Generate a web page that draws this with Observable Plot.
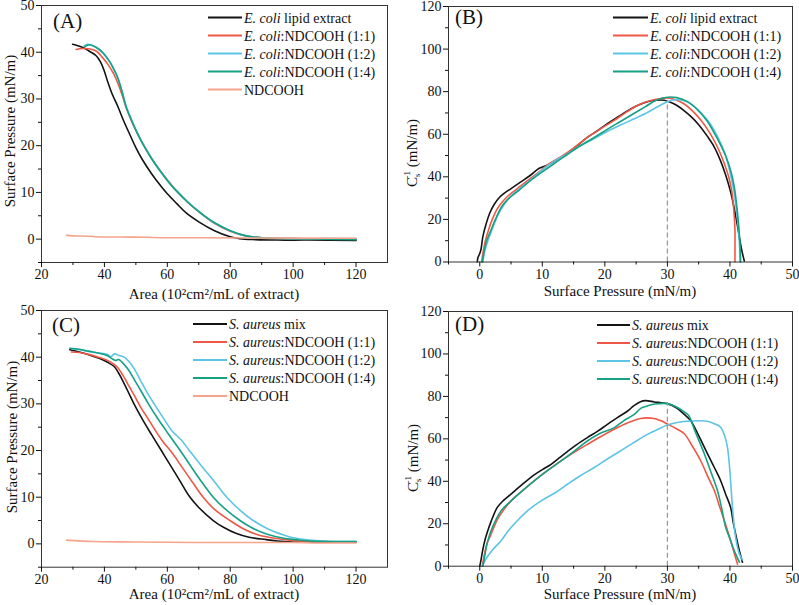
<!DOCTYPE html>
<html>
<head>
<meta charset="utf-8">
<script src="https://cdn.jsdelivr.net/npm/d3@7"></script>
<script src="https://cdn.jsdelivr.net/npm/@observablehq/plot@0.6"></script>
<style>
  body { margin: 0; background: #fff; }
  #fig { position: relative; width: 799px; height: 605px; font-family: 'Liberation Serif', serif; }
  #fig svg { position: absolute; overflow: visible; }
</style>
</head>
<body>
<div id="fig"></div>
<script>
// ---- (A) E. coli isotherms: [area, surface pressure]
const aLipid = [[29.9,41.7],[31.5,41.4],[33.5,40.9],[35.5,40.1],[37.3,39.3],[38.7,38],[39.9,36.1],[41,33.8],[42.5,31],[44.2,28.5],[46,25.5],[48,22.5],[50,19.6],[52,17.1],[55,14],[58,11.3],[60,9.7],[63,7.6],[66,5.6],[70,3.7],[75,1.8],[80,0.5],[83,0.1],[88,-0.1],[95,-0.2],[105,-0.2],[120,-0.3]];
const aMix11 = [[31,40.6],[33,40.8],[35.5,40.7],[37.5,40.2],[39.2,39],[41,37.5],[43,35.3],[44.5,33],[45.8,30.5],[47,28],[48.8,25],[50.8,22.2],[52.8,19.8],[55.5,16.8],[58.5,14],[61.5,11.5],[64,9.6],[67,7.6],[70.5,5.6],[75,3.4],[80,1.7],[85,0.7],[90,0.3],[100,0.1],[110,0],[120,0]];
const aMix12 = [[33.5,41.3],[34.5,41.7],[36,41.5],[37.8,40.8],[39.5,39.8],[41.5,38.1],[43,36.3],[44.3,34.5],[45.6,31.7],[46.9,28.5],[48.6,25.6],[50.6,22.6],[52.6,20],[55.2,17.1],[58.2,14.2],[61.2,11.6],[63.5,10],[66.5,8],[70.5,5.7],[75,3.5],[80,1.8],[85,0.7],[90,0.3],[100,0.1],[110,0.1],[120,0.1]];
const aMix14 = [[33.8,41.2],[35.2,41.6],[37.5,41],[39.4,40],[41.5,38.2],[43,36.4],[44.2,34.6],[45.5,31.8],[46.8,28.5],[48.5,25.6],[50.5,22.6],[52.5,20],[55,17.2],[58,14.3],[61,11.7],[63.3,10],[66.3,8],[70.2,5.8],[75,3.5],[80,1.8],[85,0.7],[90,0.3],[100,0.1],[110,0],[120,-0.1]];
const aNd = [[28,0.8],[30,0.7],[36,0.6],[37,0.5],[45,0.45],[54,0.4],[55,0.35],[70,0.3],[90,0.25],[120,0.2]];

// ---- (B) E. coli compressibility modulus: [surface pressure, Cs^-1]
const bLipid = [[-0.4,0],[-0.3,2],[0,4],[0.2,6],[0.5,12],[1,17.7],[1.6,23],[2.3,27],[3.2,30.5],[4,32.5],[5,34.5],[6.5,37.5],[8,40.5],[9.5,44],[10.8,45.5],[12,47.5],[14,51],[15.5,54.5],[17.2,58.5],[19,62],[20.4,65],[22,68],[23.6,71],[25.2,73.5],[26.8,75.3],[28.2,76],[29.5,76],[30.5,75],[31.6,73.4],[32.7,71],[33.7,68.5],[35,64.5],[36.4,59],[37.5,54],[38.5,47.5],[39.3,41],[40.1,33],[40.7,25],[41.2,17],[41.6,10],[42,4],[42.3,0.5]];
const bMix11 = [[0.3,0],[0.5,4],[0.9,10],[1.4,15],[2,20],[2.7,24.5],[3.4,27.5],[4.5,31],[6,34.5],[8,39],[9.8,43],[11,46],[13,49.5],[15,53.5],[17.2,58.5],[19.3,62.5],[21.5,66.5],[23.5,70.5],[25.7,74.2],[27.5,76],[29,76.8],[30,77],[31.2,76.3],[32.7,74.2],[34,71],[35.3,66.8],[36.7,61],[38,54],[39,47],[39.8,40],[40.3,33],[40.6,25],[40.8,15],[40.8,5],[40.8,0]];
const bMix12 = [[0.5,0],[0.8,5],[1.3,10],[2,15.5],[2.9,22],[3.9,27],[5,31],[6.6,35],[8.5,39.5],[10.3,44],[12,47.5],[14,50.8],[16,54.5],[18.3,58],[20.5,61.5],[22.5,64.3],[24.5,67],[26.8,70.2],[28.5,73],[30,75.3],[31.3,76.2],[32.7,75.8],[34,73.8],[35.3,70.3],[36.7,65.5],[38,59],[39.2,51],[40.1,41],[40.7,32],[41.2,20],[41.5,10],[41.6,0]];
const bMix14 = [[0.4,0],[0.7,5],[1.1,10],[1.8,15],[2.5,20],[3.4,25.5],[4.5,29.5],[6,33],[8,38],[10,42.3],[12,46.5],[14,50.5],[16,54.5],[18.3,58.5],[20.5,62.5],[22.5,66],[24.5,69.5],[26.5,73],[28.2,76],[30,77.4],[31.5,77.2],[33.2,75.3],[34.8,71.5],[36.4,66],[37.5,60.5],[38.5,55],[39.5,48.5],[40.2,42],[40.7,35],[41.1,26],[41.4,17],[41.6,8],[41.7,0]];

// ---- (C) S. aureus isotherms
const cMix = [[29,41.6],[32,41.1],[35,40.5],[38.9,39.6],[41,38.9],[43.1,38],[44.5,36.6],[45.8,35],[47.1,33.2],[48.4,31.4],[49.4,30],[52,26.8],[55,23.4],[58.1,20],[61,16.8],[64,13.5],[67,10.2],[70,7.8],[74.6,5],[78,3.5],[82,2.2],[86,1.4],[91.5,0.9],[95,0.6],[100,0.4],[110,0.4],[120,0.4]];
const cMix11 = [[29.5,41.1],[32,41],[35,40.6],[38,40],[41,39.3],[43,38.5],[44.2,37.8],[45.8,36.2],[47.4,34.3],[49.5,31.8],[51.6,29.2],[53.5,27.2],[56,24.5],[58.5,22],[61.5,19.5],[64.5,16.6],[68,13.2],[71.4,10],[75,7.4],[79.9,5],[84,3.3],[88,2.1],[93,1.3],[97.8,0.9],[102,0.6],[110,0.5],[120,0.4]];
const cMix12 = [[29.5,41.8],[32,41.6],[35,41.2],[38,40.9],[41,40.6],[42,40.1],[43.2,40.7],[44.5,40.4],[46.3,40],[48,38.9],[49.5,37.5],[51.5,35],[53.7,32.3],[55.8,30],[58.5,27.2],[61.5,24.2],[64.5,22.2],[67,20],[71,16.6],[75,13.3],[78.9,10],[83,7.3],[87.3,5],[92,3.2],[97,1.9],[100,1.3],[103,1],[107,0.7],[112,0.5],[120,0.5]];
const cMix14 = [[29,41.9],[32,41.7],[35,41.3],[38,40.9],[41,40.3],[42.6,39.6],[43.5,39.3],[44.5,39.5],[45.5,39],[47.4,37.5],[49.5,35.2],[51.6,32.8],[54,30],[57,26.8],[60.3,23.6],[64.1,20],[67.5,16.6],[71,13.2],[74.6,10],[78,7.7],[83.1,5],[87,3.4],[92,2],[97,1.2],[101,0.9],[106,0.6],[112,0.5],[120,0.5]];
const cNd = [[28,0.8],[30,0.7],[36,0.5],[50,0.4],[70,0.3],[100,0.3],[108,0.2],[120,0.2]];

// ---- (D) S. aureus compressibility modulus
const dMix = [[0,0],[0.2,3],[0.5,8],[0.8,12],[1.2,16],[1.8,21],[2.8,27.7],[3.8,31],[5,34],[6.8,38.5],[8.7,43],[10,45.5],[11.4,48],[12.7,51],[14,54],[15.5,57.3],[17.2,60.6],[18.8,63.5],[20.4,66.8],[22,70],[23.6,73],[24.6,75.5],[25.7,77.5],[26.5,78],[27.9,77.4],[29,77],[30,76.6],[31.5,74.5],[32.7,71.5],[33.7,68.6],[35,61.5],[36.4,53],[37.5,46.5],[38.5,40.4],[39.3,34],[40.1,27.8],[40.5,21],[40.9,15.3],[41.5,7.4],[42,1.9]];
const dMix11 = [[0.4,0],[0.7,5],[1.2,11],[1.8,15],[2.8,22],[3.8,26.5],[5,30.8],[6.8,35.5],[8.7,40.2],[10.8,45],[13,49.6],[15,53.5],[17.2,57.4],[19.3,61],[21.5,64.5],[23.5,67.3],[25.7,69.6],[27.9,69.6],[29,68.5],[30,67],[31.3,65],[32.7,62.4],[34,56.5],[35.3,49.8],[36.5,42],[37.5,35.7],[38.3,28.5],[39.1,21.5],[40.1,12.1],[40.7,6],[41.2,1]];
const dMix12 = [[0.4,0],[1,3.5],[2,7.5],[3.4,12],[4.5,16.5],[6,21.4],[7.8,26.5],[9.8,30.8],[12,34.5],[14,38.6],[16,42.5],[18.3,46.5],[20.4,50.5],[22.5,54.3],[24.6,58.2],[26.8,62.1],[28.5,64.5],[30,66.5],[31.8,67.8],[33.7,68.4],[35,68.5],[36.4,68.3],[37.6,67],[38.5,65.5],[39.2,61],[39.6,56],[39.9,48],[40.1,40.4],[40.4,27.8],[40.9,13.7],[41.5,5.8],[42,3]];
const dMix14 = [[0.5,0],[0.8,5],[1.2,11],[1.8,16.7],[2.6,22],[3.6,26.8],[5,30.8],[6.8,35.5],[8.7,40.2],[10.8,45],[13,49.6],[15,54],[17.2,59],[19.2,62.5],[21.5,65.3],[23,68.5],[24.7,71.5],[25.8,74.5],[26.8,75.5],[28,76.4],[30,76.6],[31.6,74.8],[32.8,72.5],[33.4,71],[34.5,63],[35.9,53],[37,44],[38,35.7],[38.7,27],[39.3,18.4],[39.9,13.7],[40.4,9.5],[40.9,5.8],[41.5,1.9]];

// dashed marker at 30 mN/m: [x, top]
const bDash = [[30, 76]];
const dDash = [[30, 77]];

// ticks
const isoXMajor = [20, 40, 60, 80, 100, 120];
const isoXMinor = [30, 50, 70, 90, 110];
const isoYMajor = [0, 10, 20, 30, 40, 50];
const isoYMinor = [-5, 5, 15, 25, 35, 45];
const modXMajor = [0, 10, 20, 30, 40, 50];
const modXMinor = [-5, 5, 15, 25, 35, 45];
const modYMajor = [0, 20, 40, 60, 80, 100, 120];
const modYMinor = [10, 30, 50, 70, 90, 110];

// legend text: [italic part, plain part]
const ecoliNames = [["E. coli", " lipid extract"], ["E. coli", ":NDCOOH (1:1)"], ["E. coli", ":NDCOOH (1:2)"], ["E. coli", ":NDCOOH (1:4)"], ["", "NDCOOH"]];
const saureusNames = [["S. aureus", " mix"], ["S. aureus", ":NDCOOH (1:1)"], ["S. aureus", ":NDCOOH (1:2)"], ["S. aureus", ":NDCOOH (1:4)"], ["", "NDCOOH"]];

const colors = ["#141414", "#ef5846", "#5cc5e6", "#16a084", "#f6a48c"];
const FONT = "'Liberation Serif', 'Times New Roman', serif";

const fig = d3.select("#fig");

function panel(o) {
  const marks = [];
  o.series.forEach((s, i) => {
    marks.push(Plot.line(s, {x: d => d[0], y: d => d[1], stroke: colors[o.colorIdx[i]], strokeWidth: 1.6, curve: "catmull-rom"}));
  });
  if (o.dash) marks.push(Plot.ruleX(o.dash, {x: d => d[0], y1: 0, y2: d => d[1], stroke: "#9a9a9a", strokeWidth: 1.3, strokeDasharray: "5,3"}));
  marks.push(
    Plot.frame({stroke: "#333"}),
    Plot.axisX(o.xMajor, {tickSize: 5, tickPadding: 2}),
    Plot.axisX(o.xMinor, {tickSize: 3, tickFormat: () => ""}),
    Plot.axisY(o.yMajor, {tickSize: 5, tickPadding: 2}),
    Plot.axisY(o.yMinor, {tickSize: 3, tickFormat: () => ""})
  );
  const chart = Plot.plot({
    width: o.width, height: o.height,
    marginLeft: o.ml, marginRight: o.mr, marginTop: o.mt, marginBottom: o.mb,
    x: {domain: o.xDomain, label: null},
    y: {domain: o.yDomain, label: null},
    style: {fontFamily: FONT, fontSize: "14px", color: "#111", background: "transparent", overflow: "visible"},
    marks
  });
  const svg = d3.select(chart);
  svg.attr("font-family", FONT)
    .style("left", o.left + "px").style("top", o.top + "px");
  fig.append(() => chart);

  // panel letter
  svg.append("text").attr("x", o.tag[1]).attr("y", o.tag[2]).attr("text-anchor", "start")
    .attr("font-size", 21).attr("fill", "#111").text(o.tag[0]);

  // x title
  svg.append("text").attr("x", o.xt[0]).attr("y", o.xt[1]).attr("text-anchor", "middle")
    .attr("font-size", 15).attr("fill", "#111").text(o.xTitle);

  // y title
  const yt = svg.append("text").attr("transform", `translate(${o.yt[0]},${o.yt[1]}) rotate(-90)`)
    .attr("text-anchor", "middle").attr("font-size", 15).attr("fill", "#111");
  if (o.modulus) {
    yt.append("tspan").text("C");
    yt.append("tspan").attr("font-size", 9).attr("dy", 3).text("s");
    yt.append("tspan").attr("font-size", 9).attr("dx", -5).attr("dy", -10).text("-1");
    yt.append("tspan").attr("dy", 7).text(" (mN/m)");
  } else {
    yt.text("Surface Pressure (mN/m)");
  }

  // legend
  const lg = o.legend;
  lg.names.forEach((n, i) => {
    const cy = lg.y0 + i * 18;
    svg.append("line").attr("x1", lg.x1).attr("x2", lg.x2).attr("y1", cy).attr("y2", cy)
      .attr("stroke", colors[i]).attr("stroke-width", 2);
    const t = svg.append("text").attr("x", lg.x2 + 2).attr("y", cy + 5).attr("text-anchor", "start")
      .attr("font-size", 14).attr("fill", "#111");
    if (n[0]) t.append("tspan").attr("font-style", "italic").text(n[0]);
    t.append("tspan").text(n[1]);
  });

  svg.selectAll("text").attr("font-family", FONT);
}

panel({
  left: 0, top: 0, width: 400, height: 300, ml: 41, mr: 13, mt: 5, mb: 38,
  xDomain: [20, 130], yDomain: [-5, 50],
  xMajor: isoXMajor, xMinor: isoXMinor, yMajor: isoYMajor, yMinor: isoYMinor,
  series: [aLipid, aMix11, aMix12, aMix14, aNd], colorIdx: [0, 1, 2, 3, 4],
  tag: ["(A)", 53, 28], xt: [214, 299], yt: [15, 131],
  xTitle: "Area (10²cm²/mL of extract)",
  legend: {names: ecoliNames, x1: 208, x2: 242, y0: 17.5}
});

panel({
  left: 400, top: 0, width: 399, height: 300, ml: 48, mr: 7, mt: 6, mb: 38.5,
  xDomain: [-5, 50], yDomain: [0, 120],
  xMajor: modXMajor, xMinor: modXMinor, yMajor: modYMajor, yMinor: modYMinor,
  series: [bLipid, bMix11, bMix12, bMix14], colorIdx: [0, 1, 2, 3], dash: bDash,
  tag: ["(B)", 55, 24], xt: [220, 296], yt: [17, 153], modulus: true,
  xTitle: "Surface Pressure (mN/m)",
  legend: {names: ecoliNames.slice(0, 4), x1: 213, x2: 248, y0: 17.5}
});

panel({
  left: 0, top: 300, width: 400, height: 305, ml: 41, mr: 13, mt: 10, mb: 38.3,
  xDomain: [20, 130], yDomain: [-5, 50],
  xMajor: isoXMajor, xMinor: isoXMinor, yMajor: isoYMajor, yMinor: isoYMinor,
  series: [cMix, cMix11, cMix12, cMix14, cNd], colorIdx: [0, 1, 2, 3, 4],
  tag: ["(C)", 52, 32], xt: [214, 299], yt: [17, 137],
  xTitle: "Area (10²cm²/mL of extract)",
  legend: {names: saureusNames, x1: 193, x2: 227, y0: 24}
});

panel({
  left: 400, top: 300, width: 399, height: 305, ml: 48, mr: 7, mt: 11, mb: 39.3,
  xDomain: [-5, 50], yDomain: [0, 120],
  xMajor: modXMajor, xMinor: modXMinor, yMajor: modYMajor, yMinor: modYMinor,
  series: [dMix, dMix11, dMix12, dMix14], colorIdx: [0, 1, 2, 3], dash: dDash,
  tag: ["(D)", 55, 31], xt: [220, 299], yt: [18, 158], modulus: true,
  xTitle: "Surface Pressure (mN/m)",
  legend: {names: saureusNames.slice(0, 4), x1: 197, x2: 230, y0: 25}
});
</script>
</body>
</html>
